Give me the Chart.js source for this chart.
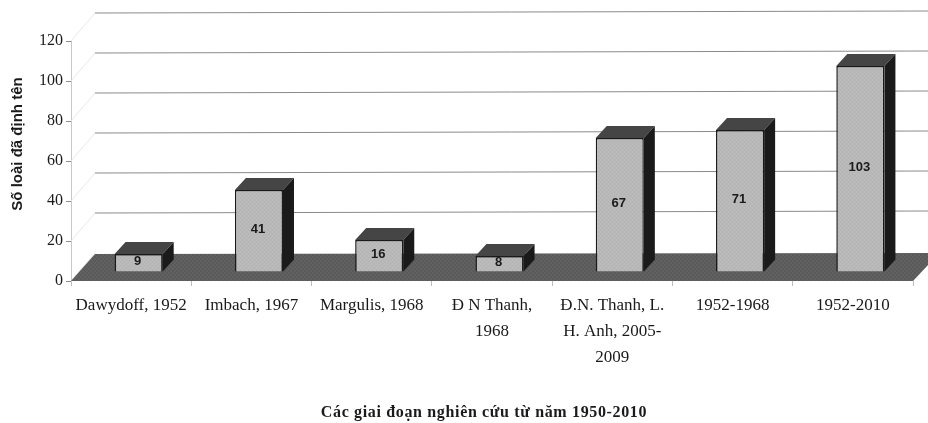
<!DOCTYPE html>
<html>
<head>
<meta charset="utf-8">
<script src="https://cdn.jsdelivr.net/npm/chart.js@4"></script>
<style>
  html, body { margin: 0; padding: 0; background: #fff; }
  #wrap { width: 928px; height: 423px; }
</style>
</head>
<body>
<div id="wrap"><canvas id="myChart"></canvas></div>
<script>
const categories = [
  "Dawydoff, 1952",
  "Imbach, 1967",
  "Margulis, 1968",
  ["Đ N Thanh,", "1968"],
  ["Đ.N. Thanh, L.", "H. Anh, 2005-", "2009"],
  "1952-1968",
  "1952-2010",
];
const species_counts = [9, 41, 16, 8, 67, 71, 103];
const y_ticks = [0, 20, 40, 60, 80, 100, 120];
const y_title = "Số loài đã định tên";
const x_title = "Các giai đoạn nghiên cứu từ năm 1950-2010";

// depth of the fake 3d box, bars sit forward of the back wall
const floor_dx = 24, floor_dy = 27;
const bar_dx = 7.5, bar_dy = 9;
const box_dx = 11, box_dy = 12;

function fillPoly(ctx, pts, color) {
  ctx.beginPath();
  pts.forEach((p, i) => (i ? ctx.lineTo(p[0], p[1]) : ctx.moveTo(p[0], p[1])));
  ctx.closePath();
  ctx.fillStyle = color;
  ctx.fill();
}

// small fixed dither so faces look like the scanned halftone
function dither(a, b) {
  const c = document.createElement("canvas");
  c.width = c.height = 4;
  const g = c.getContext("2d");
  g.fillStyle = a;
  g.fillRect(0, 0, 4, 4);
  g.fillStyle = b;
  g.fillRect(0, 0, 2, 2);
  g.fillRect(2, 2, 2, 2);
  return g.createPattern(c, "repeat");
}

const fake3d = {
  id: "fake3d",
  beforeDatasetsDraw(chart) {
    const ctx = chart.ctx;
    const area = chart.chartArea;
    const y = chart.scales.y;
    ctx.save();
    // back wall grid lines and side wall
    y_ticks.forEach((t) => {
      const py = y.getPixelForValue(t);
      ctx.strokeStyle = "#e8e8e8";
      ctx.lineWidth = 1;
      ctx.beginPath();
      ctx.moveTo(area.left, py);
      ctx.lineTo(area.left + floor_dx, py - floor_dy - 1);
      ctx.stroke();
      if (t > 0) {
        ctx.strokeStyle = "#8a8a8a";
        ctx.beginPath();
        ctx.moveTo(area.left + floor_dx, py - floor_dy - 1);
        ctx.lineTo(928, py - floor_dy - 3);
        ctx.stroke();
      }
    });
    // floor
    const y0 = y.getPixelForValue(0);
    fillPoly(ctx, [
      [area.left, y0],
      [area.left + floor_dx, y0 - floor_dy],
      [928, y0 - floor_dy - 1],
      [928, y0 - 16],
      [area.right, y0],
    ], dither("#5a5a5a", "#616161"));
    ctx.restore();

    // top and side of the boxes
    ctx.save();
    ctx.translate(bar_dx, -bar_dy);
    chart.getDatasetMeta(0).data.forEach((bar) => {
      const l = bar.x - bar.width / 2, r = bar.x + bar.width / 2;
      fillPoly(ctx, [[l, bar.y], [l + box_dx, bar.y - box_dy], [r + box_dx, bar.y - box_dy], [r, bar.y]], "#454545");
      fillPoly(ctx, [[r, bar.y], [r + box_dx, bar.y - box_dy], [r + box_dx, bar.base - box_dy], [r, bar.base]], "#1a1a1a");
    });
    ctx.restore();

    ctx.save();
    ctx.translate(bar_dx, -bar_dy);
  },
  afterDatasetsDraw(chart) {
    const ctx = chart.ctx;
    ctx.restore();
    ctx.save();
    ctx.translate(bar_dx, -bar_dy);
    ctx.font = "bold 13px 'Liberation Sans'";
    ctx.fillStyle = "#1a1a1a";
    ctx.textAlign = "center";
    ctx.textBaseline = "middle";
    chart.getDatasetMeta(0).data.forEach((bar, i) => {
      ctx.fillText(species_counts[i], bar.x - 1, (bar.y + bar.base) / 2 - 1);
    });
    ctx.restore();

    // axis titles, off centre in the picture so placed by hand
    ctx.save();
    ctx.fillStyle = "#1a1a1a";
    ctx.textAlign = "center";
    ctx.textBaseline = "middle";
    ctx.font = "bold 15px 'Liberation Sans'";
    ctx.save();
    ctx.translate(18, 144);
    ctx.rotate(-Math.PI / 2);
    ctx.fillText(y_title, 0, 0);
    ctx.restore();
    ctx.font = "bold 16px 'Liberation Serif'";
    ctx.letterSpacing = "0.65px";
    ctx.fillText(x_title, 484, 413);
    ctx.restore();
  },
};

const config = {
  type: "bar",
  data: {
    labels: categories,
    datasets: [
      {
        label: y_title,
        data: species_counts,
        backgroundColor: dither("#b4b4b4", "#bcbcbc"),
        borderColor: "#1a1a1a",
        borderWidth: 1.5,
        barPercentage: 0.4,
        categoryPercentage: 1,
      },
    ],
  },
  options: {
    responsive: false,
    animation: false,
    layout: { padding: { top: 41, right: 15, bottom: 0, left: 0 } },
    plugins: {
      legend: { display: false },
      tooltip: { enabled: false },
    },
    scales: {
      x: {
        grid: { drawOnChartArea: false, color: "#bdbdbd", tickLength: 5 },
        border: { display: false },
        afterFit(scale) { scale.height = 142; },
        ticks: {
          maxRotation: 0,
          autoSkip: false,
          color: "#1a1a1a",
          padding: 7,
          font: { family: "'Liberation Serif'", size: 17, lineHeight: 1.53 },
        },
      },
      y: {
        min: 0,
        max: 120,
        grid: { drawOnChartArea: false, color: "#8c8c8c", tickLength: 5 },
        border: { color: "#c8c8c8" },
        afterFit(scale) { scale.width = 71; },
        ticks: {
          stepSize: 20,
          color: "#1a1a1a",
          padding: 3,
          font: { family: "'Liberation Serif'", size: 16 },
        },
      },
    },
  },
  plugins: [fake3d],
};

const canvas = document.getElementById("myChart");
canvas.width = 928;
canvas.height = 423;
var myChart = new Chart(canvas, config);
</script>
</body>
</html>
